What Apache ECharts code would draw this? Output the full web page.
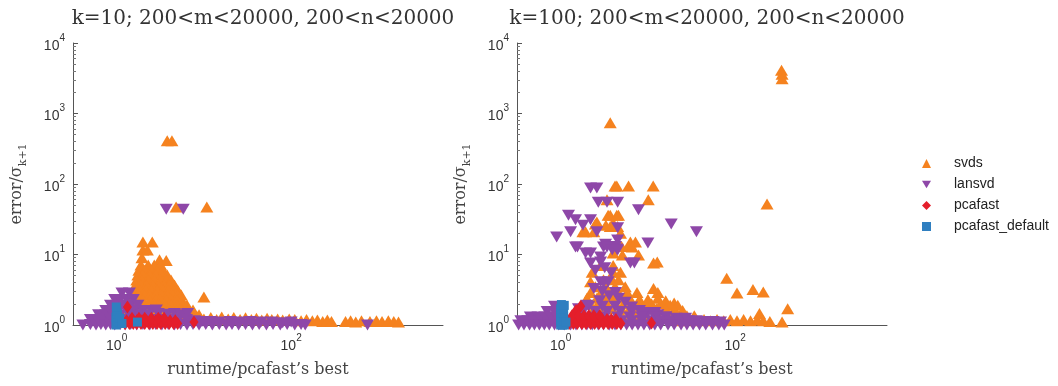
<!DOCTYPE html>
<html>
<head>
<meta charset="utf-8">
<script src="https://cdn.jsdelivr.net/npm/echarts@6/dist/echarts.min.js"></script>
<style>
  html, body { margin: 0; padding: 0; background: #fff; }
  #main { width: 1058px; height: 386px; }
</style>
</head>
<body>
<div id="main"></div>
<script>
// panel titles and series names
var titles = ['k=10; 200<m<20000, 200<n<20000', 'k=100; 200<m<20000, 200<n<20000'];
var names = ['svds', 'lansvd', 'pcafast', 'pcafast_default'];

// k=10 panel, [runtime ratio, error ratio]
var k10Svds = [
  [3.8, 410], [4.3, 410], [4.8, 47], [10.8, 47], [2.0, 15], [2.56, 15],
  [2.0, 11.6], [2.25, 11.6], [1.95, 9], [3.1, 8.4], [3.7, 8.2],
  [1.9, 7.1], [2.3, 7.1], [2.7, 7.1], [3.2, 7.1],
  [1.8, 6.0], [2.1, 6.0], [2.5, 6.0], [2.9, 6.0], [3.4, 6.0],
  [1.75, 5.1], [2.0, 5.1], [2.4, 5.1], [2.8, 5.1], [3.3, 5.1], [3.8, 5.1],
  [1.7, 4.35], [1.95, 4.35], [2.3, 4.35], [2.7, 4.35], [3.2, 4.35], [3.7, 4.35], [4.2, 4.35],
  [1.65, 3.7], [1.9, 3.7], [2.2, 3.7], [2.6, 3.7], [3.0, 3.7], [3.5, 3.7], [4.0, 3.7], [4.6, 3.7],
  [1.6, 3.14], [1.85, 3.14], [2.15, 3.14], [2.5, 3.14], [2.9, 3.14], [3.4, 3.14], [3.9, 3.14], [4.5, 3.14], [5.0, 3.14],
  [1.55, 2.66], [1.8, 2.66], [2.1, 2.66], [2.4, 2.66], [2.8, 2.66], [3.3, 2.66], [3.8, 2.66], [4.4, 2.66], [5.0, 2.66], [5.5, 2.66],
  [10, 2.5],
  [1.5, 2.26], [1.75, 2.26], [2.0, 2.26], [2.4, 2.26], [2.8, 2.26], [3.2, 2.26], [3.7, 2.26], [4.3, 2.26], [4.9, 2.26], [5.6, 2.26],
  [1.4, 1.92], [1.65, 1.92], [1.95, 1.92], [2.3, 1.92], [2.7, 1.92], [3.1, 1.92], [3.6, 1.92], [4.2, 1.92], [4.9, 1.92], [5.7, 1.92], [6.4, 1.92],
  [1.3, 1.63], [1.6, 1.63], [1.9, 1.63], [2.2, 1.63], [2.6, 1.63], [3.0, 1.63], [3.5, 1.63], [4.1, 1.63], [4.8, 1.63], [5.6, 1.63], [6.6, 1.63], [7.5, 1.63],
  [2.0, 1.39], [2.6, 1.39], [3.4, 1.39], [4.4, 1.39], [5.8, 1.39], [7.2, 1.45], [8.8, 1.4],
  [7.3, 1.25], [8.5, 1.3], [10, 1.22], [12, 1.28], [14, 1.2], [16, 1.3], [19, 1.22], [22, 1.28],
  [26, 1.2], [30, 1.27], [35, 1.2], [40, 1.25], [46, 1.18], [53, 1.25], [60, 1.2], [70, 1.22],
  [80, 1.18], [95, 1.22], [110, 1.2], [130, 1.15], [150, 1.2], [175, 1.15], [200, 1.18],
  [230, 1.12], [260, 1.18], [290, 1.12],
  [420, 1.12], [480, 1.15], [550, 1.1], [640, 1.15], [800, 1.12], [950, 1.15], [1100, 1.12],
  [1300, 1.15], [1500, 1.12], [1700, 1.1]
];
var k10Lansvd = [
  [3.7, 44], [5.8, 44],
  [1.15, 2.85], [1.4, 2.85],
  [0.95, 2.3], [1.1, 2.3], [1.3, 2.3], [1.55, 2.3],
  [0.85, 1.9], [1.0, 1.9], [1.2, 1.9], [1.45, 1.9], [1.75, 1.9],
  [0.75, 1.6], [0.9, 1.6], [1.05, 1.6], [1.3, 1.6], [1.6, 1.6], [2.0, 1.6], [2.5, 1.6], [2.85, 1.63],
  [0.62, 1.4], [0.75, 1.4], [0.9, 1.4], [1.1, 1.4], [1.4, 1.4], [1.8, 1.4], [2.3, 1.4], [3.0, 1.45],
  [3.8, 1.42], [4.6, 1.45], [5.5, 1.4], [6.5, 1.45],
  [0.5, 1.2], [0.6, 1.2], [0.72, 1.2], [0.85, 1.2], [1.0, 1.2], [1.2, 1.2], [1.5, 1.2], [1.9, 1.2],
  [2.4, 1.2], [3.1, 1.2], [4.0, 1.2], [5.1, 1.2], [6.3, 1.2], [7.8, 1.15], [9.5, 1.12],
  [12, 1.12], [15, 1.1], [20, 1.12], [26, 1.1], [34, 1.12], [45, 1.1], [60, 1.1], [80, 1.08], [100, 1.1],
  [0.41, 1.0], [0.5, 1.02], [0.58, 1.0], [0.66, 1.02], [0.75, 1.0], [0.85, 1.02], [0.95, 1.0],
  [1.1, 1.02], [1.25, 1.0], [1.45, 1.02], [1.7, 1.0], [2.0, 1.02], [2.4, 1.0], [2.8, 1.02],
  [3.3, 1.0], [3.9, 1.02], [4.6, 1.0], [5.4, 1.02], [6.4, 1.0], [7.5, 1.02], [8.8, 1.0],
  [10.5, 1.02], [12.5, 1.0], [15, 1.02], [18, 1.0], [21, 1.02], [25, 1.0], [30, 1.02],
  [36, 1.0], [43, 1.02], [52, 1.0], [62, 1.02], [75, 1.0], [90, 1.02], [110, 1.0],
  [130, 1.02], [145, 1.0], [750, 1.0]
];
var k10Pcafast = [
  [1.33, 1.8], [7.7, 1.1],
  [1.25, 1.05], [1.4, 1.05], [1.55, 1.05], [1.7, 1.05], [1.9, 1.05], [2.1, 1.05], [2.35, 1.05],
  [2.6, 1.05], [2.9, 1.05], [3.2, 1.05], [3.6, 1.05], [4.0, 1.05], [4.5, 1.05], [5.0, 1.05],
  [1.3, 1.15], [1.5, 1.15], [1.7, 1.15], [1.95, 1.15], [2.2, 1.15], [2.5, 1.15], [2.8, 1.15],
  [3.2, 1.15], [3.6, 1.15], [4.1, 1.15], [4.7, 1.15],
  [1.5, 1.25], [1.8, 1.25], [2.1, 1.25], [2.5, 1.25], [3.0, 1.25], [3.5, 1.25]
];
var k10Default = [
  [0.98, 1.0], [1.0, 1.15], [0.98, 1.3], [1.02, 1.45], [1.0, 1.6], [0.99, 1.8],
  [1.06, 1.1], [1.08, 1.25], [1.15, 1.05], [1.73, 1.1]
];

// k=100 panel
var k100Svds = [
  [340, 4100], [345, 3600], [345, 3100], [3.7, 740],
  [4.2, 94], [4.4, 94], [6.0, 94], [11.5, 94], [232, 52], [10.1, 60], [3.4, 60],
  [3.5, 36], [4.6, 36], [3.7, 36], [4.4, 36], [2.6, 29], [1.8, 21], [2.4, 21], [3.7, 25],
  [4.5, 25], [4.85, 20], [2.5, 27], [3.3, 26], [4.0, 28], [1.93, 21],
  [5.0, 13], [6.0, 13], [6.3, 15], [7.2, 15], [6.6, 12.8], [4.0, 10.5], [5.1, 9.8], [7.8, 9.8],
  [12.8, 7.8], [11.6, 7.6], [2.87, 7], [4.0, 7], [2.3, 5.6], [4.0, 5.6], [4.85, 5.6],
  [3.1, 4.4], [3.9, 4.4], [4.6, 4.4], [2.2, 4.1], [80, 4.6], [105, 2.85], [160, 3.2], [210, 2.95],
  [400, 1.7], [345, 1.1], [11.6, 3.3], [13, 2.9], [20, 2.05],
  [2.5, 3.5], [3.3, 3.5], [4.2, 3.5], [5.5, 3.5],
  [2.2, 2.9], [2.9, 2.9], [3.6, 2.9], [4.6, 2.9], [5.8, 2.9], [7.5, 2.9],
  [2.0, 2.4], [2.6, 2.4], [3.2, 2.4], [4.0, 2.4], [5.0, 2.4], [6.2, 2.4], [8, 2.3], [10, 2.3], [13, 2.4], [16, 2.2],
  [2.1, 2.0], [2.7, 2.0], [3.4, 2.0], [4.3, 2.0], [5.3, 2.0], [6.6, 2.0], [8.5, 2.0], [11, 2.0], [14, 2.0], [18, 1.9], [22, 1.9],
  [2.4, 1.7], [3.1, 1.7], [3.9, 1.7], [5.0, 1.7], [6.2, 1.7], [7.8, 1.7], [9.8, 1.7], [12.5, 1.7], [16, 1.7], [20, 1.65], [25, 1.6],
  [5, 1.4], [7, 1.4], [9.5, 1.4], [13, 1.4], [17, 1.4], [22, 1.4], [28, 1.35], [34, 1.35],
  [25, 1.15], [30, 1.2], [36, 1.15], [44, 1.2], [52, 1.15], [62, 1.2], [74, 1.15], [88, 1.2],
  [105, 1.15], [125, 1.2], [150, 1.15], [180, 1.2], [190, 1.45], [210, 1.15], [250, 1.12]
];
var k100Lansvd = [
  [2.2, 88], [2.6, 88], [2.7, 55], [3.4, 55], [4.5, 55], [7.8, 43], [1.23, 36], [1.48, 31],
  [2.2, 31], [1.8, 26], [18.5, 27], [36, 21], [0.9, 17.7], [1.3, 21], [2.6, 21], [4.5, 24],
  [10, 14.5], [1.56, 12.8], [3.1, 12.8], [4.5, 16], [1.48, 12.8], [1.93, 10.5], [2.2, 10.5],
  [2.87, 9.2], [3.27, 14], [4.25, 13], [4.4, 12], [3.4, 12.8], [3.9, 11.6], [4.5, 11.6],
  [2.2, 7.6], [2.87, 7.8], [6.3, 7.6], [7.0, 7.6], [2.87, 4.1], [3.1, 4.0], [3.5, 4.1], [4.25, 2.9],
  [2.5, 6], [3.2, 6.5], [3.8, 5.5], [2.4, 3.3], [3.0, 3.0], [3.6, 2.6], [4.6, 2.4], [5.5, 2.1],
  [2.8, 2.2], [2.0, 1.9], [1.6, 1.7], [6.5, 1.8], [8, 1.6], [10, 1.5], [13, 1.4], [16, 1.3],
  [0.85, 1.85], [2.1, 1.85], [3.0, 1.85], [4.2, 1.85],
  [0.7, 1.55], [0.85, 1.55], [1.8, 1.55], [2.5, 1.55], [3.4, 1.55], [4.8, 1.55], [6.5, 1.55], [9, 1.5], [12, 1.5],
  [0.45, 1.3], [0.55, 1.3], [0.66, 1.3], [0.78, 1.3], [0.9, 1.3], [1.6, 1.3], [2.3, 1.3], [3.2, 1.3],
  [4.5, 1.3], [6.2, 1.3], [8.5, 1.3], [12, 1.3], [16, 1.3], [21, 1.25], [27, 1.25],
  [0.35, 1.15], [0.42, 1.15], [0.5, 1.15], [0.6, 1.15], [0.7, 1.15], [0.82, 1.15], [0.95, 1.15],
  [1.4, 1.15], [2.0, 1.15], [2.8, 1.15], [3.8, 1.15], [5, 1.15], [6.5, 1.15], [8.5, 1.15],
  [11, 1.15], [14, 1.15], [18, 1.15], [23, 1.15], [29, 1.15], [36, 1.15], [45, 1.12], [56, 1.12], [68, 1.1],
  [0.33, 1.0], [0.38, 1.0], [0.44, 1.0], [0.5, 1.0], [0.57, 1.0], [0.65, 1.0], [0.74, 1.0], [0.85, 1.0],
  [0.95, 1.0], [1.1, 1.0], [1.3, 1.0], [1.5, 1.0], [1.75, 1.0], [2.0, 1.0], [2.3, 1.0], [2.7, 1.0],
  [3.1, 1.0], [3.6, 1.0], [4.2, 1.0], [4.9, 1.0], [5.7, 1.0], [6.6, 1.0], [7.7, 1.0], [9, 1.0],
  [10.5, 1.0], [12, 1.0], [14, 1.0], [17, 1.0], [20, 1.0], [24, 1.0], [28, 1.0], [33, 1.0],
  [39, 1.0], [46, 1.0], [55, 1.0], [65, 1.0], [75, 1.0]
];
var k100Pcafast = [
  [1.7, 1.85], [11, 1.07], [1.5, 1.6],
  [1.25, 1.05], [1.4, 1.05], [1.55, 1.05], [1.75, 1.05], [1.95, 1.05], [2.2, 1.05], [2.45, 1.05],
  [2.75, 1.05], [3.1, 1.05], [3.5, 1.05], [3.9, 1.05], [4.4, 1.05], [4.9, 1.05],
  [1.3, 1.2], [1.5, 1.2], [1.7, 1.2], [1.9, 1.2], [2.15, 1.2], [2.4, 1.2], [2.7, 1.2],
  [3.0, 1.2], [3.4, 1.2], [3.8, 1.2], [4.3, 1.2],
  [1.35, 1.35], [1.6, 1.35], [1.85, 1.35], [2.1, 1.35], [2.4, 1.35], [2.8, 1.35]
];
var k100Default = [
  [1.0, 1.0], [1.05, 1.0], [1.1, 1.0], [1.0, 1.15], [1.08, 1.15], [1.0, 1.3], [1.08, 1.3],
  [1.0, 1.48], [1.08, 1.48], [1.0, 1.7], [1.08, 1.7], [1.02, 1.95], [1.1, 1.9], [1.15, 1.1]
];

var colors = ['#F5821F', '#8E47A8', '#E41E2B', '#2F7FC0'];
var symbols = [
  'triangle',
  'path://M0,0 L10,0 L5,8.6 Z',
  'diamond',
  'rect'
];
var sizes = [[13, 11], [13, 11], [9, 13], [9, 9]];

var serif = 'DejaVu Serif';
var sans = 'Liberation Sans';

var chart = echarts.init(document.getElementById('main'));

function powLabel(v) {
  return '{b|10}{s|' + Math.round(Math.log10(v)) + '}';
}
var labelRich = {
  b: { fontSize: 14, fontFamily: sans, color: '#333', lineHeight: 20, verticalAlign: 'bottom' },
  s: { fontSize: 10, fontFamily: sans, color: '#333', lineHeight: 12, verticalAlign: 'top' }
};

var grids = [
  { left: 73, top: 43, width: 370, height: 282 },
  { left: 517, top: 43, width: 370, height: 282 }
];

var xAxes = grids.map(function(g, i) {
  return {
    type: 'log',
    gridIndex: i,
    min: 0.316,
    max: 5500,
    name: 'runtime/pcafast\u2019s best',
    nameLocation: 'middle',
    nameGap: 37,
    nameTextStyle: { fontFamily: serif, fontSize: 16, color: '#444' },
    axisLine: { lineStyle: { color: '#555', width: 1 } },
    axisTick: { show: false },
    splitLine: { show: false },
    axisLabel: {
      margin: 8,
      formatter: function(v) {
        var e = Math.log10(v);
        if (Math.abs(e - Math.round(e)) > 1e-6) return '';
        if (Math.round(e) % 2 !== 0) return '';
        return powLabel(v);
      },
      rich: labelRich
    }
  };
});

var yAxes = grids.map(function(g, i) {
  return {
    type: 'log',
    gridIndex: i,
    min: 1,
    max: 10000,
    name: '{n|error/\u03c3}{k|k+1}',
    nameLocation: 'middle',
    nameGap: 44,
    nameRotate: 90,
    nameTextStyle: {
      rich: {
        n: { fontFamily: serif, fontSize: 16, color: '#444', lineHeight: 20, verticalAlign: 'top' },
        k: { fontFamily: serif, fontSize: 11, color: '#444', lineHeight: 20, verticalAlign: 'bottom' }
      }
    },
    axisLine: { lineStyle: { color: '#555', width: 1 } },
    axisTick: { inside: true, length: 5, lineStyle: { color: '#555' } },
    minorTick: { show: true, splitNumber: 9, length: 3, lineStyle: { color: '#777' } },
    splitLine: { show: false },
    axisLabel: { margin: 8, formatter: powLabel, rich: labelRich }
  };
});

var panels = [
  [k10Svds, k10Lansvd, k10Pcafast, k10Default],
  [k100Svds, k100Lansvd, k100Pcafast, k100Default]
];

var series = [];
panels.forEach(function(sets, p) {
  sets.forEach(function(d, i) {
    series.push({
      name: names[i],
      type: 'scatter',
      xAxisIndex: p,
      yAxisIndex: p,
      symbol: symbols[i],
      symbolSize: sizes[i],
      itemStyle: { color: colors[i], opacity: 1 },
      clip: false,
      z: 2 + i,
      data: d
    });
  });
});

var option = {
  animation: false,
  title: [
    { text: titles[0], left: 258, top: 4, textAlign: 'center',
      textStyle: { fontFamily: serif, fontSize: 20, fontWeight: 'normal', color: '#333' } },
    { text: titles[1], left: 702, top: 4, textAlign: 'center',
      textStyle: { fontFamily: serif, fontSize: 20, fontWeight: 'normal', color: '#333' } }
  ],
  legend: {
    orient: 'vertical',
    left: 917,
    top: 151,
    itemWidth: 9,
    itemHeight: 9,
    itemGap: 6,
    textStyle: { fontFamily: sans, fontSize: 14, color: '#222', lineHeight: 15, padding: [0, 0, 0, 18] },
    data: names
  },
  grid: grids,
  xAxis: xAxes,
  yAxis: yAxes,
  series: series
};

chart.setOption(option);
</script>
</body>
</html>
